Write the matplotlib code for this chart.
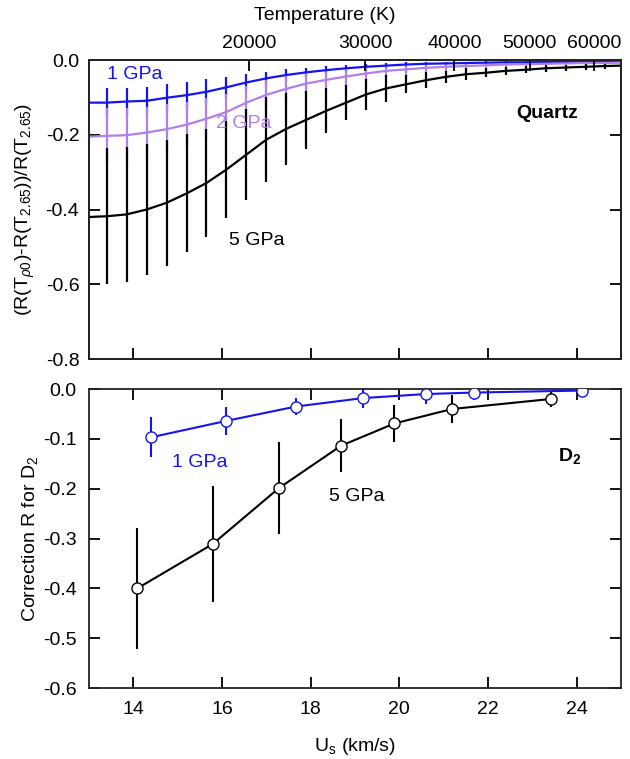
import matplotlib
matplotlib.use("Agg")
import matplotlib.pyplot as plt

plt.rcParams["font.family"] = ["Liberation Sans", "DejaVu Sans"]
plt.rcParams["mathtext.fontset"] = "custom"
plt.rcParams["mathtext.rm"] = "Liberation Sans"
plt.rcParams["mathtext.it"] = "Liberation Sans:italic"
plt.rcParams["mathtext.bf"] = "Liberation Sans:bold"
plt.rcParams["axes.unicode_minus"] = False

# quartz: smooth curves (first/last points are the axis edges)
us_curve = [13.0, 13.40, 13.85, 14.30, 14.75, 15.20, 15.65, 16.10, 16.55, 17.00,
            17.45, 17.90, 18.35, 18.80, 19.25, 19.70, 20.15, 20.60, 21.05, 21.50,
            21.95, 22.40, 22.85, 23.30, 23.75, 24.20, 24.65, 25.0]
q1 = [-0.114, -0.114, -0.111, -0.109, -0.101, -0.094, -0.085, -0.073, -0.060, -0.049,
      -0.040, -0.033, -0.027, -0.022, -0.018, -0.015, -0.012, -0.010, -0.009, -0.008,
      -0.007, -0.006, -0.006, -0.005, -0.005, -0.004, -0.004, -0.004]
q2 = [-0.205, -0.203, -0.201, -0.194, -0.185, -0.173, -0.157, -0.139, -0.114, -0.093,
      -0.077, -0.063, -0.053, -0.044, -0.036, -0.029, -0.025, -0.021, -0.018, -0.016,
      -0.014, -0.012, -0.011, -0.010, -0.009, -0.008, -0.008, -0.007]
q5 = [-0.420, -0.418, -0.413, -0.400, -0.382, -0.357, -0.329, -0.293, -0.253, -0.213,
      -0.184, -0.160, -0.136, -0.114, -0.092, -0.076, -0.065, -0.054, -0.045, -0.038,
      -0.034, -0.029, -0.026, -0.022, -0.020, -0.018, -0.016, -0.015]
# error bars sit on the inner points only
q1_err = [0.038, 0.037, 0.038, 0.036, 0.036, 0.034, 0.028, 0.022, 0.018, 0.015,
          0.012, 0.010, 0.009, 0.008, 0.007, 0.006, 0.005, 0.005, 0.004, 0.004,
          0.004, 0.003, 0.003, 0.003, 0.003, 0.003]
q2_err = [0.074, 0.072, 0.069, 0.067, 0.062, 0.055, 0.048, 0.045, 0.040, 0.035,
          0.030, 0.026, 0.022, 0.019, 0.016, 0.014, 0.012, 0.011, 0.010, 0.009,
          0.008, 0.007, 0.007, 0.006, 0.006, 0.006]
q5_err = [0.182, 0.180, 0.175, 0.169, 0.158, 0.144, 0.131, 0.122, 0.113, 0.096,
          0.077, 0.060, 0.047, 0.042, 0.035, 0.024, 0.022, 0.017, 0.016, 0.012,
          0.011, 0.009, 0.009, 0.008, 0.008, 0.007]

# top axis: temperature tick labels and the Us where they sit
temp_labels = ["20000", "30000", "40000", "50000", "60000"]
temp_us = [16.62, 19.23, 21.24, 22.94, 24.39]

# D2 points
d1_us = [14.39, 16.09, 17.67, 19.19, 20.60, 21.69, 24.11]
d1 = [-0.097, -0.064, -0.035, -0.018, -0.010, -0.007, -0.003]
d1_err = [0.040, 0.028, 0.018, 0.020, 0.019, 0.014, 0.005]
d5_us = [14.09, 15.79, 17.28, 18.68, 19.89, 21.19, 23.41]
d5 = [-0.400, -0.311, -0.199, -0.114, -0.069, -0.040, -0.020]
d5_err = [0.122, 0.116, 0.092, 0.053, 0.037, 0.029, 0.017]

blue = "#1414f0"
purple = "#b080e8"
fs = 14

fig = plt.figure(figsize=(6.3, 7.59), dpi=100)
ax1 = fig.add_axes([0.1413, 0.5270, 0.8444, 0.3939])
ax3 = fig.add_axes([0.1413, 0.0935, 0.8444, 0.3939])

# top panel
for vals, err, col, z in [(q1, q1_err, blue, 2.0), (q2, q2_err, purple, 2.1), (q5, q5_err, "k", 2.2)]:
    ax1.errorbar(us_curve[1:-1], vals[1:-1], yerr=err, fmt="none", ecolor=col,
                 elinewidth=1.6, capsize=0, zorder=z)
for vals, col in [(q1, blue), (q2, purple), (q5, "k")]:
    ax1.plot(us_curve, vals, color=col, lw=1.6, zorder=3)

ax1.set_xlim(13, 25)
ax1.set_ylim(-0.8, 0.0)
ax1.set_xticks([14, 16, 18, 20, 22, 24])
ax1.set_yticks([0.0, -0.2, -0.4, -0.6, -0.8])
ax1.set_yticklabels(["0.0", "-0.2", "-0.4", "-0.6", "-0.8"])
ax1.tick_params(direction="in", length=8, width=1.3, top=False, right=True,
                labelbottom=False, labelsize=fs, pad=7)
ax1.set_ylabel(r"(R(T$_{\rho0}$)-R(T$_{2.65}$))/R(T$_{2.65}$)", fontsize=fs)
ax1.yaxis.set_label_coords(-0.097, 0.5)

ax2 = ax1.twiny()
ax2.set_xlim(13, 25)
ax2.set_xticks(temp_us)
ax2.set_xticklabels(temp_labels)
ax2.tick_params(direction="in", length=8, width=1.3, labelsize=fs, pad=6)
ax2.set_xlabel("Temperature (K)", fontsize=fs)
ax2.xaxis.set_label_coords(0.444, 1.135)

ax1.text(14.04, -0.04, "1 GPa", color=blue, fontsize=fs, ha="center", va="center")
ax1.text(16.5, -0.169, "2 GPa", color=purple, fontsize=fs, ha="center", va="center")
ax1.text(16.78, -0.482, "5 GPa", color="k", fontsize=fs, ha="center", va="center")
ax1.text(23.33, -0.142, "Quartz", color="k", fontsize=fs, fontweight="bold",
         ha="center", va="center")

# bottom panel
for xs, vals, err, col in [(d1_us, d1, d1_err, blue), (d5_us, d5, d5_err, "k")]:
    ax3.errorbar(xs, vals, yerr=err, fmt="none", ecolor=col, elinewidth=1.5,
                 capsize=0, zorder=2)
    ax3.plot(xs, vals, "-o", color=col, lw=1.5, ms=8, mfc="white", mec=col,
             mew=1.0, zorder=3)

ax3.set_xlim(13, 25)
ax3.set_ylim(-0.6, 0.0)
ax3.set_xticks([14, 16, 18, 20, 22, 24])
ax3.set_yticks([0.0, -0.1, -0.2, -0.3, -0.4, -0.5, -0.6])
ax3.set_yticklabels(["0.0", "-0.1", "-0.2", "-0.3", "-0.4", "-0.5", "-0.6"])
ax3.tick_params(direction="in", length=8, width=1.3, top=True, right=True,
                labelsize=fs, pad=9)
ax3.set_xlabel(r"U$_\mathregular{s}$ (km/s)", fontsize=fs, labelpad=13)
ax3.set_ylabel(r"Correction R for D$_\mathregular{2}$", fontsize=fs)
ax3.yaxis.set_label_coords(-0.092, 0.5)

ax3.text(15.5, -0.148, "1 GPa", color=blue, fontsize=fs, ha="center", va="center")
ax3.text(19.05, -0.215, "5 GPa", color="k", fontsize=fs, ha="center", va="center")
ax3.text(23.84, -0.134, r"$\mathbf{D_2}$", color="k", fontsize=fs,
         ha="center", va="center")

for ax in (ax1, ax2, ax3):
    for sp in ax.spines.values():
        sp.set_linewidth(1.3)
        sp.set_color("#222222")

fig.savefig("out.png", dpi=100)
